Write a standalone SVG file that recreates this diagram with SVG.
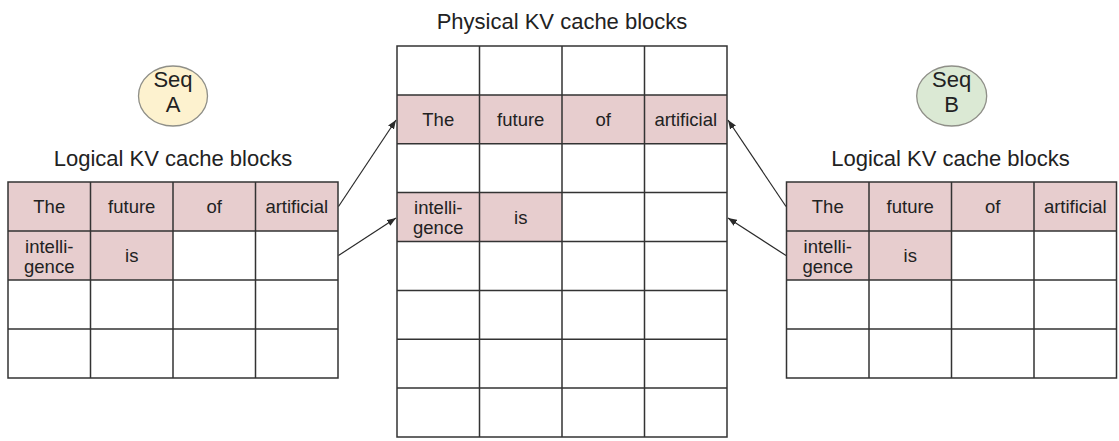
<svg xmlns="http://www.w3.org/2000/svg" width="1119" height="441" viewBox="0 0 1119 441">
<style>
text{font-family:"Liberation Sans",Arial,sans-serif;fill:#222;text-anchor:middle}
.title{font-size:22px}
.seq{font-size:22px}
.cell{font-size:18.5px}
.grid{fill:none;stroke:#333;stroke-width:1.5}
.hl{fill:#e7cdce;stroke:none}
.conn{stroke:#2a2a2a;stroke-width:1.2;fill:none;marker-end:url(#ah)}
</style>
<defs>
<marker id="ah" markerUnits="userSpaceOnUse" markerWidth="9" markerHeight="7" refX="9" refY="3.5" orient="auto">
<path d="M0,0 L9,3.5 L0,7 z" fill="#2a2a2a"/>
</marker>
</defs>
<rect width="1119" height="441" fill="#fff"/>

<g id="seqA">
<ellipse cx="173" cy="96" rx="34.5" ry="30" fill="#fdf2cf" stroke="#8f8f88" stroke-width="1.3"/>
<text class="seq" x="173" y="87">Seq</text>
<text class="seq" x="173" y="112">A</text>
</g>

<g id="seqB">
<ellipse cx="951.7" cy="96" rx="35" ry="30" fill="#dbe9d4" stroke="#8f8f88" stroke-width="1.3"/>
<text class="seq" x="951.7" y="87">Seq</text>
<text class="seq" x="951.7" y="112">B</text>
</g>

<g id="logicalA">
<text class="title" x="173" y="166">Logical KV cache blocks</text>
<rect class="hl" x="8" y="182" width="330" height="49"/>
<rect class="hl" x="8" y="231" width="165" height="49"/>
<path class="grid" d="M8,182H338V378H8Z M90.5,182V378 M173,182V378 M255.5,182V378 M8,231H338 M8,280H338 M8,329H338"/>
<text class="cell" x="49.25" y="213">The</text>
<text class="cell" x="131.75" y="213">future</text>
<text class="cell" x="214.25" y="213">of</text>
<text class="cell" x="296.75" y="213">artificial</text>
<text class="cell" x="49.25" y="252.5">intelli-</text>
<text class="cell" x="49.25" y="272.5">gence</text>
<text class="cell" x="131.75" y="262">is</text>
</g>

<g id="physical">
<text class="title" x="562" y="29">Physical KV cache blocks</text>
<rect class="hl" x="397" y="94.9" width="330" height="48.9"/>
<rect class="hl" x="397" y="192.6" width="165" height="48.9"/>
<path class="grid" d="M397,46H727V437H397Z M479.5,46V437 M562,46V437 M644.5,46V437 M397,94.9H727 M397,143.75H727 M397,192.6H727 M397,241.5H727 M397,290.4H727 M397,339.25H727 M397,388.1H727"/>
<text class="cell" x="438.25" y="126">The</text>
<text class="cell" x="520.75" y="126">future</text>
<text class="cell" x="603.25" y="126">of</text>
<text class="cell" x="685.75" y="126">artificial</text>
<text class="cell" x="438.25" y="214">intelli-</text>
<text class="cell" x="438.25" y="234">gence</text>
<text class="cell" x="520.75" y="223.6">is</text>
</g>

<g id="logicalB">
<text class="title" x="950.5" y="166">Logical KV cache blocks</text>
<rect class="hl" x="786.5" y="182" width="330" height="49"/>
<rect class="hl" x="786.5" y="231" width="165" height="49"/>
<path class="grid" d="M786.5,182H1116.5V378H786.5Z M869,182V378 M951.5,182V378 M1034,182V378 M786.5,231H1116.5 M786.5,280H1116.5 M786.5,329H1116.5"/>
<text class="cell" x="827.75" y="213">The</text>
<text class="cell" x="910.25" y="213">future</text>
<text class="cell" x="992.75" y="213">of</text>
<text class="cell" x="1075.25" y="213">artificial</text>
<text class="cell" x="827.75" y="252.5">intelli-</text>
<text class="cell" x="827.75" y="272.5">gence</text>
<text class="cell" x="910.25" y="262">is</text>
</g>

<g id="connectors">
<line class="conn" x1="338.5" y1="206.5" x2="396" y2="120"/>
<line class="conn" x1="338.5" y1="255.5" x2="396" y2="218"/>
<line class="conn" x1="786" y1="206.5" x2="728" y2="120"/>
<line class="conn" x1="786" y1="255.5" x2="728" y2="218"/>
</g>
</svg>
